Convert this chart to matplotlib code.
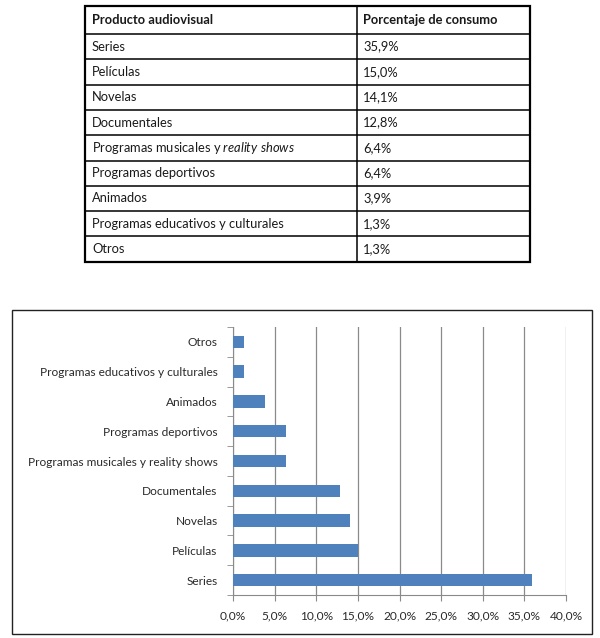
import matplotlib
matplotlib.use("Agg")
import matplotlib.pyplot as plt
from matplotlib.patches import Rectangle
from matplotlib.ticker import FuncFormatter, MultipleLocator
import numpy as np

# data
header = ["Producto audiovisual", "Porcentaje de consumo"]
table_products = ["Series", "Películas", "Novelas", "Documentales",
                  "Programas musicales y $\\mathit{reality\\ shows}$",
                  "Programas deportivos", "Animados",
                  "Programas educativos y culturales", "Otros"]
table_values = ["35,9%", "15,0%", "14,1%", "12,8%", "6,4%", "6,4%",
                "3,9%", "1,3%", "1,3%"]

chart_labels = ["Series", "Películas", "Novelas", "Documentales",
                "Programas musicales y reality shows", "Programas deportivos",
                "Animados", "Programas educativos y culturales", "Otros"]
chart_values = [35.9, 15.0, 14.1, 12.8, 6.4, 6.4, 3.9, 1.3, 1.3]

plt.rcParams['mathtext.fontset'] = 'custom'
plt.rcParams['mathtext.rm'] = 'Lato'
plt.rcParams['mathtext.it'] = 'Lato:italic'

W, H = 600, 638
fig = plt.figure(figsize=(W / 100, H / 100), dpi=100)
bg = fig.add_axes([0, 0, 1, 1])
bg.set_xlim(0, W)
bg.set_ylim(H, 0)
bg.axis("off")

# ---- table ----
tx0, tx1, tx2 = 85, 357, 530
top, head_h, row_h = 6, 28, 25.3
n = len(table_products)
bottom = top + head_h + n * row_h
row_lines = [top + head_h + i * row_h for i in range(n)]
for y in row_lines:
    bg.plot([tx0, tx2], [y, y], color="black", lw=1.1)
bg.add_patch(Rectangle((tx0, top), tx2 - tx0, bottom - top, fill=False,
                       edgecolor="black", lw=1.6))
bg.plot([tx1, tx1], [top, bottom], color="black", lw=1.1)

tfont = dict(family="Lato", fontsize=9.3, va="center", color="#1a1a1a")
bg.text(tx0 + 7, top + head_h / 2, header[0], fontweight="bold", **tfont)
bg.text(tx1 + 6, top + head_h / 2, header[1], fontweight="bold", **tfont)
for i, (p, v) in enumerate(zip(table_products, table_values)):
    yc = top + head_h + (i + 0.5) * row_h
    bg.text(tx0 + 7, yc, p, **tfont)
    bg.text(tx1 + 6, yc, v, **tfont)

# ---- chart frame ----
bg.add_patch(Rectangle((12, 310), 580, 324, fill=False,
                       edgecolor="#222222", lw=1.0))

ax = fig.add_axes([233 / W, 1 - 595 / H, 333 / W, 268 / H])
y = np.arange(len(chart_values))
ax.barh(y, chart_values, height=0.42, color="#4F81BD", zorder=3)
ax.set_ylim(-0.5, len(chart_values) - 0.5)
ax.set_xlim(0, 40)
ax.xaxis.set_major_locator(MultipleLocator(5))
ax.xaxis.set_major_formatter(FuncFormatter(lambda v, p: f"{v:.1f}%".replace(".", ",")))
ax.set_yticks(y)
ax.set_yticklabels(chart_labels)
ax.set_yticks(np.arange(len(chart_values) + 1) - 0.5, minor=True)
ax.grid(axis="x", color="#8a8a8a", lw=0.9, zorder=0)
for s in ["top", "right"]:
    ax.spines[s].set_visible(False)
for s in ["left", "bottom"]:
    ax.spines[s].set_color("#8a8a8a")
ax.tick_params(axis="y", which="major", length=0, pad=11)
ax.tick_params(axis="y", which="minor", length=4, color="#8a8a8a")
ax.tick_params(axis="x", length=4, color="#8a8a8a", pad=7)
for lab in ax.get_xticklabels() + ax.get_yticklabels():
    lab.set_family("Lato")
    lab.set_fontsize(8.6)
    lab.set_color("#2a2a2a")

fig.savefig("out.png", dpi=100)
